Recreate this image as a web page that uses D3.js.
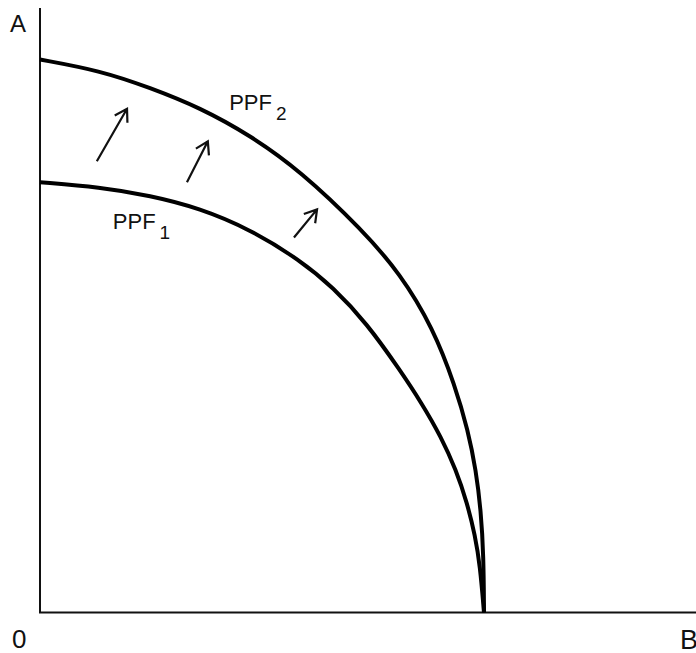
<!DOCTYPE html>
<html>
<head>
<meta charset="utf-8">
<script src="https://cdn.jsdelivr.net/npm/d3@7"></script>
<style>
    body { margin: 0; background: #fff; }
    text { font-family: "Liberation Sans", Arial, sans-serif; fill: #111; }
</style>
</head>
<body>
<svg id="chart" width="696" height="653"></svg>
<script>
var ppf1 = [
    [0, 7.78], [1.35, 7.69], [2.48, 7.54], [3.60, 7.31], [4.73, 6.93],
    [5.86, 6.37], [6.60, 5.88], [7.36, 5.23], [8.11, 4.38], [8.60, 3.78],
    [9.03, 3.18], [9.37, 2.58], [9.62, 1.98], [9.80, 1.39], [9.91, 0.85],
    [10, 0]
];
var ppf2 = [
    [0, 10.00], [1.35, 9.80], [2.48, 9.49], [3.60, 9.13], [4.73, 8.63],
    [5.86, 7.99], [7.27, 6.91], [8.11, 6.13], [8.85, 5.15], [9.35, 4.10],
    [9.64, 3.29], [9.82, 2.57], [9.93, 1.84], [9.99, 1.04], [10, 0]
];
// Outward shift arrows: [fromX, fromY, toX, toY]
var shiftArrows = [
    [1.28, 8.16, 1.96, 9.11],
    [3.31, 7.78, 3.78, 8.52],
    [5.72, 6.78, 6.24, 7.29]
];
var curveLabels = [
    { text: "PPF", sub: "2", x: 4.26, y: 9.08 },
    { text: "PPF", sub: "1", x: 1.64, y: 6.94 }
];
var axisLabels = ["A", "0", "B"];

var svg = d3.select("#chart");

// The frontiers meet the B axis at 10; A of PPF2 is 10 too.
var x = d3.scaleLinear().domain([0, 10]).range([40, 484]);
var y = d3.scaleLinear().domain([0, 10]).range([612.5, 59.5]);

// Axes: plain lines without ticks.
svg.append("line")
    .attr("x1", x(0)).attr("y1", 8)
    .attr("x2", x(0)).attr("y2", y(0))
    .attr("stroke", "#111").attr("stroke-width", 2);
svg.append("line")
    .attr("x1", x(0) - 1).attr("y1", y(0))
    .attr("x2", 696).attr("y2", y(0))
    .attr("stroke", "#111").attr("stroke-width", 2);

// A B-spline smooths out the small errors of the read points.
var line = d3.line()
    .x(function (d) { return x(d[0]); })
    .y(function (d) { return y(d[1]); })
    .curve(d3.curveBasis);

svg.selectAll("path.ppf")
    .data([ppf1, ppf2])
    .enter()
    .append("path")
    .attr("class", "ppf")
    .attr("d", line)
    .attr("fill", "none")
    .attr("stroke", "#000")
    .attr("stroke-width", 4)
    .attr("stroke-linecap", "butt");

// Arrows with open heads.
var arrowGroups = svg.selectAll("g.arrow")
    .data(shiftArrows)
    .enter()
    .append("g")
    .attr("class", "arrow");
arrowGroups.append("path")
    .attr("d", function (d) {
        var x1 = x(d[0]), y1 = y(d[1]), x2 = x(d[2]), y2 = y(d[3]);
        var angle = Math.atan2(y2 - y1, x2 - x1);
        var len = 14, spread = 0.55;
        var a1 = angle + Math.PI - spread, a2 = angle + Math.PI + spread;
        return "M" + x1 + "," + y1 + "L" + x2 + "," + y2 +
            "M" + (x2 + len * Math.cos(a1)) + "," + (y2 + len * Math.sin(a1)) +
            "L" + x2 + "," + y2 +
            "L" + (x2 + len * Math.cos(a2)) + "," + (y2 + len * Math.sin(a2));
    })
    .attr("fill", "none")
    .attr("stroke", "#111")
    .attr("stroke-width", 2.2)
    .attr("stroke-linejoin", "miter");

// Curve labels with subscripts.
var labelText = svg.selectAll("text.ppf-label")
    .data(curveLabels)
    .enter()
    .append("text")
    .attr("class", "ppf-label")
    .attr("x", function (d) { return x(d.x); })
    .attr("y", function (d) { return y(d.y); })
    .attr("font-size", 22);
labelText.append("tspan")
    .text(function (d) { return d.text; });
labelText.append("tspan")
    .attr("dx", 4)
    .attr("dy", 10)
    .attr("font-size", 19)
    .text(function (d) { return d.sub; });

// Axis letters.
svg.append("text")
    .attr("x", 10).attr("y", 32)
    .attr("font-size", 24)
    .text(axisLabels[0]);
svg.append("text")
    .attr("x", 12).attr("y", 648)
    .attr("font-size", 26)
    .text(axisLabels[1]);
svg.append("text")
    .attr("x", 680).attr("y", 649)
    .attr("font-size", 27)
    .text(axisLabels[2]);
</script>
</body>
</html>
